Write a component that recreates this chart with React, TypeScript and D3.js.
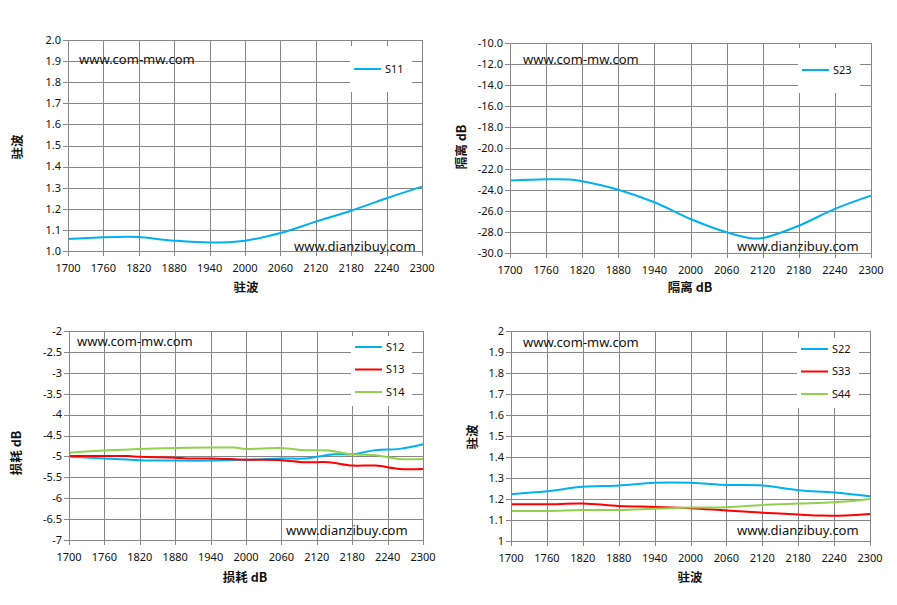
import React from 'react';
import * as d3 from 'd3';

// frequency grid (MHz)
const freqTicks = [1700, 1760, 1820, 1880, 1940, 2000, 2060, 2120, 2180, 2240, 2300];

// S11 VSWR
const s11Freq = [1700, 1760, 1800, 1820, 1880, 1940, 2000, 2060, 2120, 2180, 2240, 2300];
const s11Vals = [1.057, 1.065, 1.068, 1.066, 1.049, 1.04, 1.049, 1.085, 1.139, 1.191, 1.25, 1.305];

// S23 isolation dB
const s23Freq = [1700, 1760, 1800, 1820, 1880, 1940, 2000, 2060, 2100, 2120, 2180, 2240, 2300];
const s23Vals = [-23.1, -22.98, -23.0, -23.17, -23.97, -25.17, -26.76, -28.03, -28.6, -28.57, -27.4, -25.8, -24.54];

// insertion loss dB
const s12Freq = [1700, 1760, 1820, 1880, 1940, 2000, 2060, 2100, 2120, 2150, 2180, 2220, 2260, 2300];
const s12Vals = [-5.0, -5.05, -5.09, -5.1, -5.1, -5.08, -5.05, -5.05, -5.01, -4.95, -4.95, -4.85, -4.82, -4.71];
const s13Freq = [1700, 1760, 1800, 1820, 1880, 1900, 1940, 2000, 2060, 2100, 2140, 2180, 2220, 2260, 2300];
const s13Vals = [-4.99, -4.99, -4.99, -5.01, -5.03, -5.05, -5.05, -5.08, -5.09, -5.14, -5.14, -5.22, -5.22, -5.3, -5.3];
const s14Freq = [1700, 1760, 1820, 1880, 1940, 1980, 2000, 2060, 2100, 2140, 2180, 2220, 2260, 2300];
const s14Vals = [-4.91, -4.86, -4.82, -4.8, -4.79, -4.79, -4.82, -4.8, -4.85, -4.86, -4.95, -4.97, -5.06, -5.06];

// port VSWR
const s22Freq = [1700, 1760, 1820, 1880, 1940, 2000, 2060, 2120, 2180, 2240, 2300];
const s22Vals = [1.223, 1.237, 1.258, 1.264, 1.277, 1.277, 1.267, 1.264, 1.242, 1.231, 1.213];
const s33Freq = [1700, 1760, 1820, 1880, 1940, 2000, 2060, 2120, 2180, 2220, 2260, 2300];
const s33Vals = [1.175, 1.175, 1.178, 1.167, 1.162, 1.156, 1.145, 1.135, 1.126, 1.121, 1.122, 1.129];
const s44Freq = [1700, 1760, 1820, 1880, 1940, 2000, 2060, 2120, 2180, 2240, 2300];
const s44Vals = [1.143, 1.143, 1.148, 1.148, 1.154, 1.159, 1.161, 1.172, 1.178, 1.184, 1.2];

const BLUE = '#00b0f0';
const RED = '#ff0000';
const GREEN = '#92d050';
const GRID = '#868686';
const TICK_FONT = '"Noto Sans", "DejaVu Sans", sans-serif';
const CJK_FONT = '"Noto Sans CJK SC", sans-serif';

type Series = { name: string; freq: number[]; vals: number[]; color: string };

interface PanelProps {
  left: number; right: number; top: number; bottom: number;
  yDomain: [number, number];
  yTicks: number[];
  yFmt: (v: number) => string;
  series: Series[];
  legend: { x: number; y: number; w: number; h: number; first: number; step: number };
  mark1: [number, number]; // com-mw watermark
  mark2: [number, number]; // dianzibuy watermark
  yTitle: string; yTitleX: number; yTitleY: number;
  xTitle: string; xTitleX: number; xTitleY: number;
}

// excel style: plain hyphen instead of unicode minus
const hy = (f: (v: number) => string) => (v: number) => f(v).replace('\u2212', '-');

function Panel(p: PanelProps) {
  const x = d3.scaleLinear().domain([1700, 2300]).range([p.left, p.right]);
  const y = d3.scaleLinear().domain(p.yDomain).range([p.bottom, p.top]);
  const line = d3.line<[number, number]>()
    .x(d => x(d[0]))
    .y(d => y(d[1]))
    .curve(d3.curveCatmullRom.alpha(0.5));

  return (
    <g>
      {p.yTicks.map(t => (
        <line key={'h' + t} x1={p.left} x2={p.right} y1={Math.round(y(t)) + 0.5} y2={Math.round(y(t)) + 0.5} stroke={GRID} strokeWidth={1} />
      ))}
      {freqTicks.map(t => (
        <line key={'v' + t} x1={Math.round(x(t)) + 0.5} x2={Math.round(x(t)) + 0.5} y1={p.top} y2={p.bottom + 5} stroke={GRID} strokeWidth={1} />
      ))}
      {p.yTicks.map(t => (
        <line key={'yt' + t} x1={p.left - 5} x2={p.left} y1={Math.round(y(t)) + 0.5} y2={Math.round(y(t)) + 0.5} stroke={GRID} />
      ))}
      {p.yTicks.map(t => (
        <text key={'yl' + t} x={p.left - 7} y={y(t)} dy="0.35em" textAnchor="end" fontFamily={TICK_FONT} fontSize={11} fill="#111">{hy(p.yFmt)(t)}</text>
      ))}
      {freqTicks.map(t => (
        <text key={'xl' + t} x={x(t)} y={p.bottom + 17} dy="0.35em" textAnchor="middle" fontFamily={TICK_FONT} fontSize={11} fill="#111">{t}</text>
      ))}
      {p.series.map(s => (
        <path key={s.name} d={line(s.freq.map((f, i) => [f, s.vals[i]] as [number, number])) || ''} fill="none" stroke={s.color} strokeWidth={2} />
      ))}
      <rect x={p.legend.x} y={p.legend.y} width={p.legend.w} height={p.legend.h} fill="white" />
      {p.series.map((s, i) => {
        const ly = p.legend.first + i * p.legend.step;
        return (
          <g key={'lg' + s.name}>
            <line x1={p.legend.x + 4} x2={p.legend.x + 31} y1={ly} y2={ly} stroke={s.color} strokeWidth={2} />
            <text x={p.legend.x + 35} y={ly} dy="0.35em" fontFamily={TICK_FONT} fontSize={11} fill="#111">{s.name}</text>
          </g>
        );
      })}
      <text x={p.mark1[0]} y={p.mark1[1]} dy="0.35em" fontFamily={TICK_FONT} fontSize={13} fill="#111">www.com-mw.com</text>
      <text x={p.mark2[0]} y={p.mark2[1]} dy="0.35em" fontFamily={TICK_FONT} fontSize={13} fill="#111">www.dianzibuy.com</text>
      <text transform={`translate(${p.yTitleX},${p.yTitleY}) rotate(-90)`} textAnchor="middle" dy="0.35em" fontFamily={CJK_FONT} fontWeight="bold" fontSize={12.5} fill="#111">{p.yTitle}</text>
      <text x={p.xTitleX} y={p.xTitleY} textAnchor="middle" dy="0.35em" fontFamily={CJK_FONT} fontWeight="bold" fontSize={12.5} fill="#111">{p.xTitle}</text>
      <rect x={p.left + 0.5} y={p.top + 0.5} width={p.right - p.left} height={p.bottom - p.top} fill="none" stroke={GRID} />
    </g>
  );
}

const vswrTicks = d3.range(0, 11).map(i => 1 + i / 10);
const isoTicks = d3.range(0, 11).map(i => -30 + i * 2);
const lossTicks = d3.range(0, 11).map(i => -7 + i * 0.5);

export default function App() {
  return (
    <svg width={897} height={605} style={{ position: 'absolute', left: 0, top: 0, background: 'white' }}>
      <rect width={897} height={605} fill="white" />
      <Panel left={68} right={422} top={40} bottom={251}
        yDomain={[1, 2]} yTicks={vswrTicks} yFmt={d3.format('.1f')}
        series={[{ name: 'S11', freq: s11Freq, vals: s11Vals, color: BLUE }]}
        legend={{ x: 350, y: 46, w: 62, h: 46, first: 69, step: 22 }}
        mark1={[79, 59]} mark2={[294, 246]}
        yTitle="驻波" yTitleX={18} yTitleY={147}
        xTitle="驻波" xTitleX={246} xTitleY={288} />
      <Panel left={510} right={871} top={43} bottom={253}
        yDomain={[-30, -10]} yTicks={isoTicks} yFmt={d3.format('.1f')}
        series={[{ name: 'S23', freq: s23Freq, vals: s23Vals, color: BLUE }]}
        legend={{ x: 798, y: 48, w: 62, h: 45, first: 70, step: 22 }}
        mark1={[523, 59]} mark2={[737, 246]}
        yTitle="隔离 dB" yTitleX={462} yTitleY={147}
        xTitle="隔离 dB" xTitleX={690} xTitleY={288} />
      <Panel left={69} right={423} top={331} bottom={540}
        yDomain={[-7, -2]} yTicks={lossTicks} yFmt={d3.format('')}
        series={[
          { name: 'S12', freq: s12Freq, vals: s12Vals, color: BLUE },
          { name: 'S13', freq: s13Freq, vals: s13Vals, color: RED },
          { name: 'S14', freq: s14Freq, vals: s14Vals, color: GREEN },
        ]}
        legend={{ x: 351, y: 336, w: 61, h: 70, first: 347, step: 22.5 }}
        mark1={[77, 341]} mark2={[286, 530]}
        yTitle="损耗 dB" yTitleX={17} yTitleY={453}
        xTitle="损耗 dB" xTitleX={245} xTitleY={578} />
      <Panel left={511} right={870} top={331} bottom={541}
        yDomain={[1, 2]} yTicks={vswrTicks} yFmt={d3.format('')}
        series={[
          { name: 'S22', freq: s22Freq, vals: s22Vals, color: BLUE },
          { name: 'S33', freq: s33Freq, vals: s33Vals, color: RED },
          { name: 'S44', freq: s44Freq, vals: s44Vals, color: GREEN },
        ]}
        legend={{ x: 797, y: 338, w: 62, h: 70, first: 349, step: 22.5 }}
        mark1={[523, 342]} mark2={[737, 530]}
        yTitle="驻波" yTitleX={473} yTitleY={437}
        xTitle="驻波" xTitleX={690} xTitleY={578} />
    </svg>
  );
}
